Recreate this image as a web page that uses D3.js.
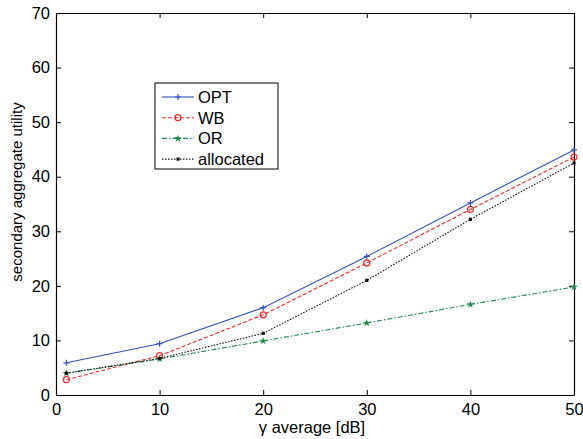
<!DOCTYPE html>
<html><head><meta charset="utf-8">
<script src="https://cdn.jsdelivr.net/npm/d3@7/dist/d3.min.js"></script>
<style>body{margin:0;background:#fff}svg{display:block}text{font-family:"Liberation Sans",Arial,sans-serif}</style>
</head><body>
<script>
const xValues = [1, 10, 20, 30, 40, 50];
const optValues = [5.9, 9.4, 16.0, 25.4, 35.2, 44.9];
const wbValues = [2.8, 7.2, 14.7, 24.2, 34.0, 43.6];
const orValues = [4.0, 6.6, 9.9, 13.2, 16.6, 19.8];
const allocatedValues = [4.0, 6.7, 11.3, 21.0, 32.2, 42.5];
const seriesNames = ["OPT", "WB", "OR", "allocated"];
const xTicks = [0, 10, 20, 30, 40, 50];
const yTicks = [0, 10, 20, 30, 40, 50, 60, 70];

const W = 583, H = 439;
const m = {l: 56, t: 13, r: 9, b: 44};
const svg = d3.select("body").append("svg").attr("width", W).attr("height", H);
const x = d3.scaleLinear().domain([0, 50]).range([m.l, W - m.r]);
const y = d3.scaleLinear().domain([0, 70]).range([H - m.b, m.t]);

const styles = [
  {name: seriesNames[0], vals: optValues, color: "#3552c0", dash: null, marker: "plus", w: 1.1},
  {name: seriesNames[1], vals: wbValues, color: "#f02a2a", dash: "4,2", marker: "circle", w: 1.1},
  {name: seriesNames[2], vals: orValues, color: "#1e8a4a", dash: "5,2,1.5,2", marker: "star", w: 1.1},
  {name: seriesNames[3], vals: allocatedValues, color: "#111", dash: "1.5,1.5", marker: "square", w: 1.1}
];

function drawMarker(g, type, cx, cy, color) {
  if (type === "plus") {
    g.append("path").attr("d", `M${cx-3},${cy}H${cx+3}M${cx},${cy-3}V${cy+3}`).attr("stroke", color).attr("stroke-width", 1.2);
  } else if (type === "circle") {
    g.append("circle").attr("cx", cx).attr("cy", cy).attr("r", 3).attr("fill", "none").attr("stroke", color).attr("stroke-width", 1.2);
  } else if (type === "star") {
    g.append("path").attr("d", d3.symbol(d3.symbolStar, 18)()).attr("transform", `translate(${cx},${cy})`).attr("fill", color);
  } else {
    g.append("rect").attr("x", cx-1.6).attr("y", cy-1.6).attr("width", 3.2).attr("height", 3.2).attr("fill", color);
  }
}

// axes box
const xb = d3.axisBottom(x).tickValues(xTicks).tickSizeInner(-5).tickSizeOuter(0).tickPadding(8);
const xt = d3.axisTop(x).tickValues(xTicks).tickSizeInner(-5).tickSizeOuter(0).tickFormat("");
const yl = d3.axisLeft(y).tickValues(yTicks).tickSizeInner(-5).tickSizeOuter(0).tickPadding(6);
const yr = d3.axisRight(y).tickValues(yTicks).tickSizeInner(-5).tickSizeOuter(0).tickFormat("");
const gs = [
  svg.append("g").attr("transform", `translate(0,${H-m.b})`).call(xb),
  svg.append("g").attr("transform", `translate(0,${m.t})`).call(xt),
  svg.append("g").attr("transform", `translate(${m.l},0)`).call(yl),
  svg.append("g").attr("transform", `translate(${W-m.r},0)`).call(yr)
];
gs.forEach(g => {
  g.selectAll(".domain").attr("stroke", "#000").attr("stroke-width", 1.2);
  g.selectAll(".tick line").attr("stroke", "#000");
  g.selectAll("text").attr("font-size", 16.5).attr("fill", "#000");
});

// series
const line = d3.line().x((d, i) => x(xValues[i])).y(d => y(d));
styles.forEach(s => {
  svg.append("path").datum(s.vals).attr("d", line).attr("fill", "none")
    .attr("stroke", s.color).attr("stroke-width", s.w).attr("stroke-dasharray", s.dash);
  const g = svg.append("g");
  s.vals.forEach((v, i) => drawMarker(g, s.marker, x(xValues[i]), y(v), s.color));
});

// labels
svg.append("text").attr("x", 312).attr("y", 433).attr("text-anchor", "middle").attr("font-size", 16.5).text("γ average [dB]");
svg.append("text").attr("transform", `translate(22,192) rotate(-90)`).attr("text-anchor", "middle").attr("font-size", 15).text("secondary aggregate utility");

// legend
const lg = svg.append("g");
lg.append("rect").attr("x", 155).attr("y", 83).attr("width", 123).attr("height", 86).attr("fill", "#fff").attr("stroke", "#000").attr("stroke-width", 1);
styles.forEach((s, i) => {
  const ly = 97 + i * 20.7;
  lg.append("line").attr("x1", 162).attr("x2", 194).attr("y1", ly).attr("y2", ly).attr("stroke", s.color).attr("stroke-width", s.w).attr("stroke-dasharray", s.dash);
  drawMarker(lg, s.marker, 178, ly, s.color);
  lg.append("text").attr("x", 198).attr("y", ly + 6).attr("font-size", 16.5).text(s.name);
});
</script>
</body></html>
